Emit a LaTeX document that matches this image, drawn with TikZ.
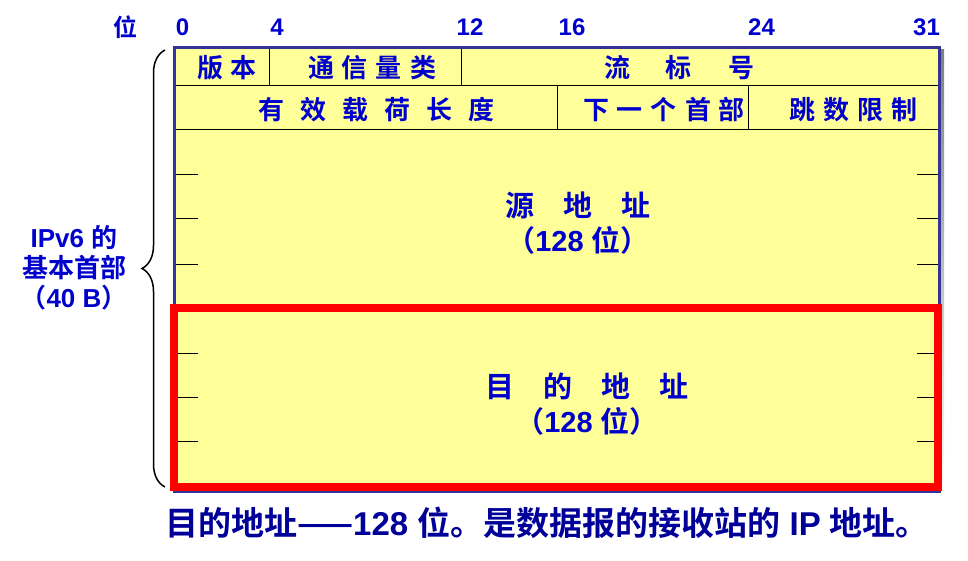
\documentclass[tikz,border=0pt]{standalone}
\usepackage{fontspec}
\setmainfont{Liberation Sans}
\newfontfamily\cjk{Noto Sans CJK SC}[BoldFont={Noto Sans CJK SC Bold}]
\newcommand{\zh}[1]{{\cjk #1}}
\newcommand{\gap}[1]{\hspace{#1pt}}
\usetikzlibrary{decorations.pathreplacing}

\definecolor{hdrblue}{RGB}{0,0,204}
\definecolor{navy}{RGB}{0,0,153}
\definecolor{boxfill}{RGB}{255,255,153}
\definecolor{boxline}{RGB}{51,51,153}
\definecolor{shade}{RGB}{255,204,0}

\begin{document}
\begin{tikzpicture}[
  x=1pt, y=-1pt,
  bitnum/.style={text=hdrblue, font=\bfseries\fontsize{24}{26}\selectfont, inner sep=0pt},
  field/.style={text=hdrblue, font=\bfseries\fontsize{26}{28}\selectfont, inner sep=0pt},
  addr/.style={text=hdrblue, font=\bfseries\fontsize{29}{35}\selectfont, inner sep=0pt, align=center},
  side/.style={text=hdrblue, font=\bfseries\fontsize{26}{30}\selectfont, inner sep=0pt, align=center},
  note/.style={text=navy, font=\bfseries\fontsize{33}{36}\selectfont, inner sep=0pt},
  rule/.style={black, line width=1pt}
]
\useasboundingbox (0,0) rectangle (968,561);

% header frame
\fill[shade] (178,50) rectangle (944,495);
\fill[boxfill] (174,46) rectangle (940,492);
\draw[rule] (174,86) -- (940,86);
\draw[rule] (174,130) -- (940,130);
\draw[rule] (269.75,46) -- (269.75,86);
\draw[rule] (461,46) -- (461,86);
\draw[rule] (557,86) -- (557,130);
\draw[rule] (748.5,86) -- (748.5,130);
\foreach \y in {175,219,264,353,397,441} {
  \draw[rule] (174,\y) -- (198,\y);
  \draw[rule] (917,\y) -- (940,\y);
}
\draw[boxline, line width=3pt] (174.5,47.5) rectangle (939.5,491.5);
\draw[red, line width=8pt] (174,308) rectangle (938,487);

% bit numbers
\node[bitnum] (wei) at (125,27) {\zh{位}};
\node[bitnum] (b0) at (182.5,27) {0};
\node[bitnum] (b4) at (277,27) {4};
\node[bitnum] (b12) at (470,27) {12};
\node[bitnum] (b16) at (572,27) {16};
\node[bitnum] (b24) at (761.5,27) {24};
\node[bitnum] (b31) at (926.5,27) {31};

% fields
\node[field] (ver) at (227,68) {\zh{版\gap{8}本}};
\node[field] (tc) at (372,68) {\zh{通\gap{8}信\gap{8}量\gap{8}类}};
\node[field] (flow) at (679,68) {\zh{流\gap{36}标\gap{36}号}};
\node[field] (plen) at (376.5,110) {\zh{有\gap{16}效\gap{16}载\gap{16}荷\gap{16}长\gap{16}度}};
\node[field] (next) at (664,110) {\zh{下\gap{8}一\gap{8}个\gap{8}首\gap{8}部}};
\node[field] (hop) at (853.5,110) {\zh{跳\gap{8}数\gap{8}限\gap{8}制}};

\node[addr] (src) at (578,223) {\zh{源\gap{29}地\gap{29}址}\\[0pt]\zh{（}128 \zh{位）}};
\node[addr] (dst) at (587,404) {\zh{目\gap{29}的\gap{29}地\gap{29}址}\\[0pt]\zh{（}128 \zh{位）}};

% brace and side label
\coordinate (brlow) at (165,487);
\coordinate (brhigh) at (165,50);
\draw[black, line width=1.5pt, decorate, decoration={brace, amplitude=23pt}] (brlow) -- (brhigh);
\node[side] (hdr) at (74,268) {IPv6 \zh{的}\\\zh{基本首部}\\\zh{（}40 B\zh{）}};

% note
\node[note] (desc) at (547,523) {\zh{目的地址——}128 \zh{位。是数据报的接收站的} IP \zh{地址。}};
\end{tikzpicture}
\end{document}
